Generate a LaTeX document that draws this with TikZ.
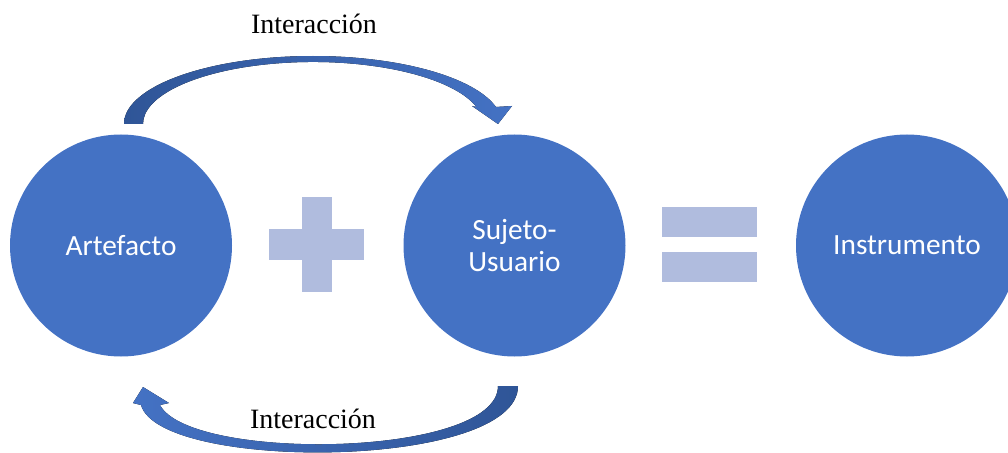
\documentclass[tikz,border=0pt]{standalone}
\usepackage{fontspec}
\setmainfont{Liberation Serif}
\newfontfamily\calibri{Carlito}

\definecolor{circblue}{RGB}{68,114,196}
\definecolor{signblue}{RGB}{176,188,222}
\definecolor{arrdark}{RGB}{47,85,151}

\tikzset{
  bubble/.style={circle, fill=circblue, minimum size=166.5pt, inner sep=0pt, text=white, align=center, font=\calibri\fontsize{22}{24}\selectfont},
  sign/.style={fill=signblue},
  lbl/.style={inner sep=0.75pt, font=\fontsize{21}{24}\selectfont},
}

\begin{document}
\begin{tikzpicture}[x=0.75pt,y=0.75pt,yscale=-1,xscale=1]
\useasboundingbox (0,0) rectangle (1008,453);
\clip (0,0) rectangle (1008,453);

%Circles
\node[bubble] (art) at (121,245.5) {Artefacto};
\node[bubble] (suj) at (514.5,245.5) {Sujeto-\\Usuario};
\node[bubble] (ins) at (907,245.5) {Instrumento};

%Plus
\fill[sign] (269,229) rectangle (364,260);
\fill[sign] (302,197) rectangle (332,292);
%Equals
\fill[sign] (662,207) rectangle (757,237);
\fill[sign] (662,252) rectangle (757,282);

%Curved arrow, top
\fill[left color=arrdark, right color=circblue] (124,124) arc[start angle=180, end angle=345.5, x radius=189, y radius=68] -- (512,106) -- (498,124) -- (472,106) -- (476.5,107) arc[start angle=344.1, end angle=180, x radius=170, y radius=62] -- cycle;
%Curved arrow, bottom
\fill[left color=circblue, right color=arrdark] (518,386) .. controls (518,470) and (160,472) .. (141,405) -- (133,403) -- (143,387) -- (169,403) -- (160,405) .. controls (190,462) and (498,458) .. (498,386) -- cycle;

% Text Node
\node[lbl] (inttop) at (314,24) {Interacción};
% Text Node
\node[lbl] (intbot) at (313,419) {Interacción};

\end{tikzpicture}
\end{document}
